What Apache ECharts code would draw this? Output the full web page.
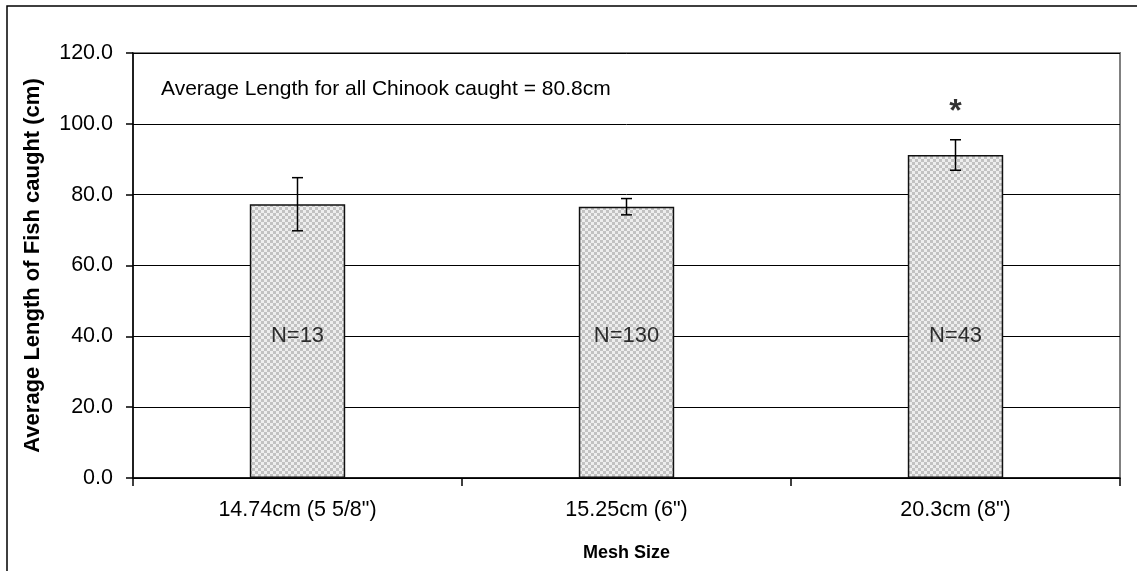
<!DOCTYPE html>
<html>
<head>
<meta charset="utf-8">
<script src="https://cdn.jsdelivr.net/npm/echarts@6/dist/echarts.min.js"></script>
<style>
  html, body { margin: 0; padding: 0; background: #fff; }
  #chart { width: 1137px; height: 571px; }
</style>
</head>
<body>
<div id="chart"></div>
<script>
// ---- Data ----
const categories = ['14.74cm (5 5/8")', '15.25cm (6")', '20.3cm (8")'];
const meanLength = [77.3, 76.6, 91.2];
const errorHalf = [7.5, 2.3, 4.3];
const nLabels = ['N=13', 'N=130', 'N=43'];
const nLabelLevel = [40, 40, 40];
const significant = [false, false, true];
const starLevel = 105;
const yTicks = { min: 0, max: 120, interval: 20 };
const yAxisTitle = 'Average Length of Fish caught (cm)';
const xAxisTitle = 'Mesh Size';
const noteText = 'Average Length for all Chinook caught = 80.8cm';

// ---- Pattern fill (checkered) ----
const pat = document.createElement('canvas');
pat.width = 6; pat.height = 6;
const pctx = pat.getContext('2d');
pctx.fillStyle = '#eeeeee'; pctx.fillRect(0, 0, 6, 6);
pctx.fillStyle = '#c2c2c2';
pctx.fillRect(0, 0, 3, 3); pctx.fillRect(3, 3, 3, 3);

const FONT = 'Liberation Sans, Arial, sans-serif';

const chart = echarts.init(document.getElementById('chart'), null, { renderer: 'canvas' });

const errData = categories.map((c, i) => [i, meanLength[i] - errorHalf[i], meanLength[i] + errorHalf[i]]);
const nData = categories.map((c, i) => [i, nLabelLevel[i]]);
const starData = categories.map((c, i) => significant[i] ? [i, starLevel] : null).filter(d => d);

chart.setOption({
  animation: false,
  backgroundColor: '#ffffff',
  grid: { left: 133, top: 53, right: 17, bottom: 93, show: true, borderColor: '#808080', borderWidth: 2 },
  graphic: [
    { type: 'rect', shape: { x: 7, y: 6, width: 1140, height: 600 }, style: { fill: 'none', stroke: '#000', lineWidth: 1.5 }, silent: true, z: -10 },
    { type: 'text', x: 161, y: 89, style: { text: noteText, font: '21px ' + FONT, fill: '#000', textVerticalAlign: 'middle' }, z: 10 }
  ],
  xAxis: {
    type: 'category',
    data: categories,
    axisLine: { lineStyle: { color: '#000', width: 1.5 } },
    axisTick: { show: true, length: 8, alignWithLabel: false, lineStyle: { color: '#000', width: 1.5 } },
    axisLabel: { color: '#000', fontSize: 21.5, fontFamily: FONT, margin: 21 },
    name: xAxisTitle,
    nameLocation: 'middle',
    nameGap: 66,
    nameTextStyle: { color: '#000', fontSize: 18, fontWeight: 'bold', fontFamily: FONT }
  },
  yAxis: {
    type: 'value',
    min: yTicks.min, max: yTicks.max, interval: yTicks.interval,
    axisLine: { show: true, lineStyle: { color: '#000', width: 1.5 } },
    axisTick: { show: true, length: 7, lineStyle: { color: '#000', width: 1.5 } },
    axisLabel: { color: '#000', fontSize: 21.5, fontFamily: FONT, margin: 20, formatter: v => v.toFixed(1) },
    splitLine: { show: true, lineStyle: { color: '#000', width: 1 } },
    name: yAxisTitle,
    nameLocation: 'middle',
    nameGap: 89,
    nameTextStyle: { color: '#000', fontSize: 22, fontWeight: 'bold', fontFamily: FONT }
  },
  series: [
    {
      type: 'bar',
      data: meanLength,
      barWidth: '29%',
      itemStyle: { color: { image: pat, repeat: 'repeat' }, borderColor: '#111', borderWidth: 1.5 },
      z: 2
    },
    {
      type: 'custom',
      data: errData,
      z: 5,
      renderItem: function (params, api) {
        const x = api.value(0);
        const lo = api.coord([x, api.value(1)]);
        const hi = api.coord([x, api.value(2)]);
        const hw = 5.5;
        const st = { stroke: '#000', lineWidth: 1.5 };
        return {
          type: 'group',
          children: [
            { type: 'line', shape: { x1: lo[0], y1: lo[1], x2: hi[0], y2: hi[1] }, style: st },
            { type: 'line', shape: { x1: lo[0] - hw, y1: lo[1], x2: lo[0] + hw, y2: lo[1] }, style: st },
            { type: 'line', shape: { x1: hi[0] - hw, y1: hi[1], x2: hi[0] + hw, y2: hi[1] }, style: st }
          ]
        };
      }
    },
    {
      type: 'scatter',
      data: nData,
      symbolSize: 0,
      z: 6,
      label: {
        show: true, position: 'inside',
        formatter: p => nLabels[p.dataIndex],
        color: '#000', fontSize: 22, fontFamily: FONT
      }
    },
    {
      type: 'scatter',
      data: starData,
      symbolSize: 0,
      z: 6,
      label: {
        show: true, position: 'inside',
        formatter: '*',
        color: '#000', fontSize: 32, fontWeight: 'bold', fontFamily: FONT,
        offset: [0, 6]
      }
    }
  ]
});
</script>
</body>
</html>
